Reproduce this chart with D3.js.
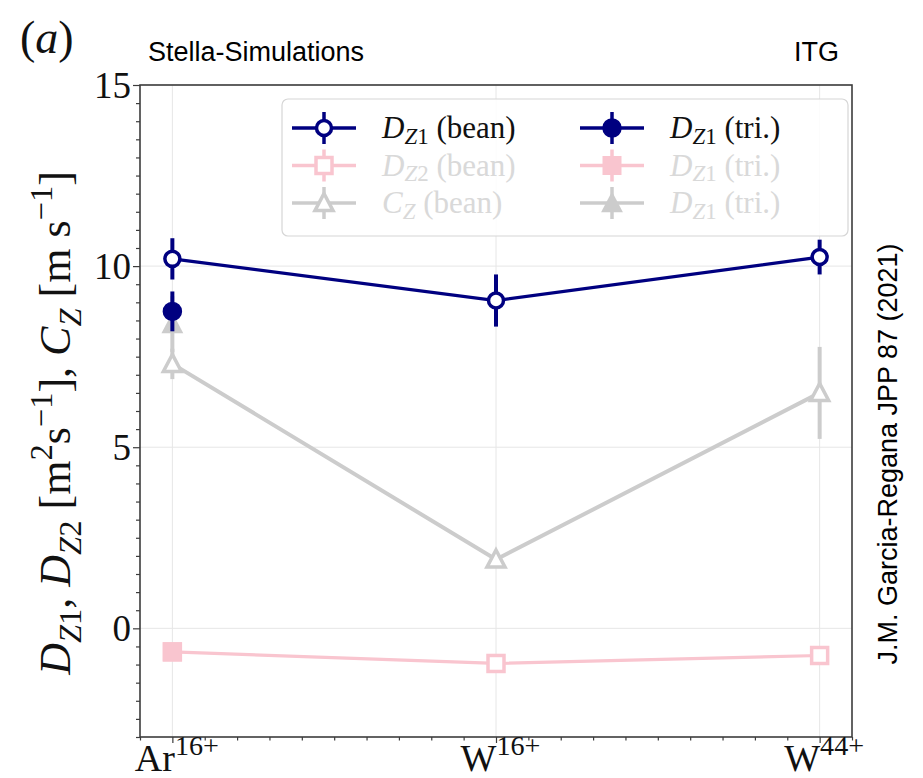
<!DOCTYPE html>
<html>
<head>
<meta charset="utf-8">
<script src="https://cdn.jsdelivr.net/npm/d3@7"></script>
<style>
  html, body { margin: 0; padding: 0; background: #fff; }
  svg { display: block; }
</style>
</head>
<body>
<svg id="chart" width="923" height="778"></svg>
<script>
// Ion species on the x axis (numeric positions 0, 1, 2)
const ions = ["Ar", "W", "W"];
const charges = ["16+", "16+", "44+"];
const ionPos = [0, 1, 2];

// Bean-shaped flux tube: diffusion and convection coefficients with uncertainties
const dz1Bean = [10.2, 9.05, 10.25];
const dz1BeanErr = [0.57, 0.72, 0.48];
const dz2Bean = [-0.65, -0.97, -0.75];
const dz2BeanErr = [0, 0, 0];
const czBean = [7.3, 1.9, 6.5];
const czBeanErr = [0.42, 0.1, 1.27];

// Triangular flux tube: only the Ar16+ case
const triPos = [0];
const dz1Tri = [8.75];
const dz1TriErr = [0.55];
const dz1TriPink = [-0.65];
const dz1TriPinkErr = [0];
const dz1TriGray = [8.4];
const dz1TriGrayErr = [0.77];

// Axis ticks
const yMajor = [0, 5, 10, 15];
const xMajor = [0, 1, 2];

const svg = d3.select("#chart");
const W = 923, H = 778;
const plot = { left: 140, right: 852, top: 85, bottom: 737 };

const x = d3.scaleLinear().domain([-0.1, 2.1]).range([plot.left, plot.right]);
const y = d3.scaleLinear().domain([-3, 15]).range([plot.bottom, plot.top]);

const NAVY = "#000080", PINK = "#f9c5cf", GRAY = "#cccccc";
const SERIF = "'Liberation Serif', 'DejaVu Serif', serif";
const SANS = "'Liberation Sans', Arial, sans-serif";

svg.append("rect").attr("width", W).attr("height", H).attr("fill", "#fff");

// Grid
const grid = svg.append("g");
grid.selectAll("line.gx").data(xMajor).join("line")
  .attr("x1", d => x(d)).attr("x2", d => x(d))
  .attr("y1", plot.top).attr("y2", plot.bottom)
  .attr("stroke", "#e6e6e6").attr("stroke-width", 1);
grid.selectAll("line.gy").data(yMajor).join("line")
  .attr("y1", d => y(d)).attr("y2", d => y(d))
  .attr("x1", plot.left).attr("x2", plot.right)
  .attr("stroke", "#e6e6e6").attr("stroke-width", 1);

// Helper for math-style rich text built from tspans
function richText(sel, parts, size, subShift = 0.25) {
  let shift = 0;
  parts.forEach(p => {
    const ts = sel.append("tspan").text(p.t);
    let target = 0, fs = size;
    if (p.pos === "sub") { target = size * subShift; fs = size * 0.74; }
    if (p.pos === "sup") { target = -size * 0.42; fs = size * 0.74; }
    ts.attr("font-size", fs).attr("dy", target - shift);
    if (p.i) ts.attr("font-style", "italic");
    shift = target;
  });
}

// Series drawing
function drawSeries(g, xs, vals, errs, color, marker, filled, lw) {
  const pts = xs.map((d, i) => ({ x: d, v: vals[i], e: errs[i] }));
  if (pts.length > 1) {
    g.append("path")
      .datum(pts)
      .attr("fill", "none").attr("stroke", color).attr("stroke-width", lw)
      .attr("d", d3.line().x(d => x(d.x)).y(d => y(d.v)));
  }
  g.selectAll(null).data(pts.filter(d => d.e > 0)).join("line")
    .attr("x1", d => x(d.x)).attr("x2", d => x(d.x))
    .attr("y1", d => y(d.v - d.e)).attr("y2", d => y(d.v + d.e))
    .attr("stroke", color).attr("stroke-width", 4);
  pts.forEach(d => drawMarker(g, x(d.x), y(d.v), color, marker, filled));
}

function drawMarker(g, cx, cy, color, marker, filled) {
  if (marker === "circle") {
    g.append("circle").attr("cx", cx).attr("cy", cy)
      .attr("r", filled ? 9 : 7.5)
      .attr("fill", filled ? color : "#fff")
      .attr("stroke", color).attr("stroke-width", filled ? 1.5 : 3.5);
  } else if (marker === "square") {
    const s = filled ? 19 : 16;
    g.append("rect").attr("x", cx - s / 2).attr("y", cy - s / 2)
      .attr("width", s).attr("height", s)
      .attr("fill", filled ? color : "#fff")
      .attr("stroke", color).attr("stroke-width", filled ? 0 : 3.5);
  } else if (marker === "triangle") {
    const r = filled ? 11.5 : 9.5;
    const p = [[cx, cy - r], [cx + r * 0.95, cy + r * 0.8], [cx - r * 0.95, cy + r * 0.8]];
    g.append("path").attr("d", "M" + p.join("L") + "Z")
      .attr("fill", filled ? color : "#fff")
      .attr("stroke", color).attr("stroke-width", filled ? 0 : 3.5)
      .attr("stroke-linejoin", "miter");
  }
}

const marks = svg.append("g");
drawSeries(marks, ionPos, dz1Bean, dz1BeanErr, NAVY, "circle", false, 3.2);
drawSeries(marks, ionPos, dz2Bean, dz2BeanErr, PINK, "square", false, 3.2);
drawSeries(marks, ionPos, czBean, czBeanErr, GRAY, "triangle", false, 4);
drawSeries(marks, triPos, dz1TriGray, dz1TriGrayErr, GRAY, "triangle", true, 4);
drawSeries(marks, triPos, dz1Tri, dz1TriErr, NAVY, "circle", true, 3.2);
drawSeries(marks, triPos, dz1TriPink, dz1TriPinkErr, PINK, "square", true, 3.2);

// Frame
svg.append("rect")
  .attr("x", plot.left).attr("y", plot.top)
  .attr("width", plot.right - plot.left).attr("height", plot.bottom - plot.top)
  .attr("fill", "none").attr("stroke", "#3c3c3c").attr("stroke-width", 1.6);

// Axes
const axStyle = g => {
  g.select(".domain").remove();
  g.selectAll(".tick line").attr("stroke", "#3c3c3c").attr("stroke-width", 1.2);
};
const yMinor = d3.range(-3, 15.01, 0.5).filter(v => !yMajor.includes(v));
svg.append("g").attr("transform", `translate(${plot.left},0)`)
  .call(d3.axisLeft(y).tickValues(yMinor).tickSize(4).tickFormat(""))
  .call(axStyle);
const yAx = svg.append("g").attr("transform", `translate(${plot.left},0)`)
  .call(d3.axisLeft(y).tickValues(yMajor).tickSize(7).tickPadding(2))
  .call(axStyle);
yAx.selectAll(".tick text")
  .attr("font-family", SERIF).attr("font-size", 37).attr("fill", "#111")
  .attr("dy", "0.34em");

const xMinor = d3.range(-1, 22).map(i => i / 10).filter(v => !xMajor.includes(Math.round(v * 10) / 10));
svg.append("g").attr("transform", `translate(0,${plot.bottom})`)
  .call(d3.axisBottom(x).tickValues(xMinor).tickSize(3.5).tickFormat(""))
  .call(axStyle);
const xAx = svg.append("g").attr("transform", `translate(0,${plot.bottom})`)
  .call(d3.axisBottom(x).tickValues(xMajor).tickSize(6).tickFormat(""))
  .call(axStyle);
xAx.selectAll(".tick").each(function (d, i) {
  const t = d3.select(this).append("text")
    .attr("y", 34).attr("x", 4).attr("text-anchor", "middle")
    .attr("font-family", SERIF).attr("fill", "#111");
  richText(t, [{ t: ions[i] }, { t: charges[i], pos: "sup" }], 38);
});

// Y axis label
const yl = svg.append("text")
  .attr("transform", "translate(70,423) rotate(-90)")
  .attr("text-anchor", "middle")
  .attr("font-family", SERIF).attr("fill", "#111");
richText(yl, [
  { t: "D", i: true }, { t: "Z", i: true, pos: "sub" }, { t: "1", pos: "sub" },
  { t: ", " }, { t: "D", i: true }, { t: "Z", i: true, pos: "sub" }, { t: "2", pos: "sub" },
  { t: " [m" }, { t: "2", pos: "sup" }, { t: "s" }, { t: "−1", pos: "sup" },
  { t: "], " }, { t: "C", i: true }, { t: "Z", i: true, pos: "sub" },
  { t: " [m s" }, { t: "−1", pos: "sup" }, { t: "]" }
], 44);

// Legend
const legend = svg.append("g");
legend.append("rect")
  .attr("x", 282).attr("y", 99).attr("width", 566).attr("height", 137)
  .attr("rx", 6).attr("fill", "#fff").attr("fill-opacity", 0.85)
  .attr("stroke", "#d6d6d6").attr("stroke-width", 1.2);

const legendItems = [
  { col: 0, row: 0, color: NAVY, marker: "circle", filled: false, sub: "1", sym: "D", tag: "bean", text: "#111" },
  { col: 0, row: 1, color: PINK, marker: "square", filled: false, sub: "2", sym: "D", tag: "bean", text: "#d9d9d9" },
  { col: 0, row: 2, color: GRAY, marker: "triangle", filled: false, sub: "", sym: "C", tag: "bean", text: "#d9d9d9" },
  { col: 1, row: 0, color: NAVY, marker: "circle", filled: true, sub: "1", sym: "D", tag: "tri.", text: "#111" },
  { col: 1, row: 1, color: PINK, marker: "square", filled: true, sub: "1", sym: "D", tag: "tri.", text: "#d9d9d9" },
  { col: 1, row: 2, color: GRAY, marker: "triangle", filled: true, sub: "1", sym: "D", tag: "tri.", text: "#d9d9d9" }
];
legendItems.forEach(it => {
  const x0 = it.col === 0 ? 292 : 580;
  const cy = 128 + it.row * 37.5;
  const g = legend.append("g");
  g.append("line").attr("x1", x0).attr("x2", x0 + 64).attr("y1", cy).attr("y2", cy)
    .attr("stroke", it.color).attr("stroke-width", 3.5);
  g.append("line").attr("x1", x0 + 32).attr("x2", x0 + 32).attr("y1", cy - 16).attr("y2", cy + 16)
    .attr("stroke", it.color).attr("stroke-width", 3.5);
  drawMarker(g, x0 + 32, cy, it.color, it.marker, it.filled);
  const t = g.append("text").attr("x", x0 + 90).attr("y", cy + 10)
    .attr("font-family", SERIF).attr("fill", it.text);
  const parts = [{ t: it.sym, i: true }, { t: "Z", i: true, pos: "sub" }];
  if (it.sub) parts.push({ t: it.sub, pos: "sub" });
  parts.push({ t: " (" + it.tag + ")" });
  richText(t, parts, 31, 0.18);
});

// Panel tag and titles
const tag = svg.append("text").attr("x", 20).attr("y", 53)
  .attr("font-family", SERIF).attr("font-size", 46).attr("fill", "#111");
tag.append("tspan").text("(");
tag.append("tspan").text("a").attr("font-style", "italic");
tag.append("tspan").text(")");

svg.append("text").attr("x", 148).attr("y", 61)
  .attr("font-family", SANS).attr("font-size", 27).attr("fill", "#000")
  .text("Stella-Simulations");
svg.append("text").attr("x", 839).attr("y", 61).attr("text-anchor", "end")
  .attr("font-family", SANS).attr("font-size", 27).attr("fill", "#000")
  .text("ITG");

svg.append("text")
  .attr("transform", "translate(897,454) rotate(-90)")
  .attr("text-anchor", "middle")
  .attr("font-family", SANS).attr("font-size", 27).attr("fill", "#000")
  .text("J.M. Garcia-Regana JPP 87 (2021)");
</script>
</body>
</html>
